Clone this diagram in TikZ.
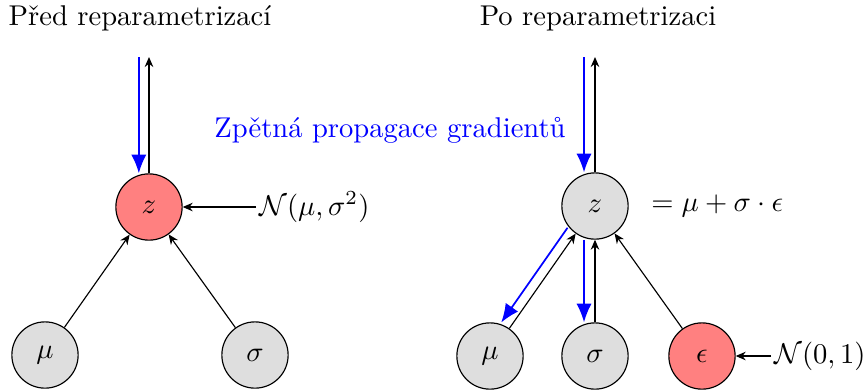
\documentclass[tikz,border=0pt]{standalone}
\usepackage{fontspec}
\usepackage{tikz}
\usetikzlibrary{arrows.meta}
\definecolor{gradblue}{RGB}{0,0,255}
\colorlet{sampledred}{red!50}
\colorlet{plaingray}{black!13}

\begin{document}
\begin{tikzpicture}[x=.0123cm,y=-.0123cm,
  var/.style={circle,draw,thin,minimum size=.815cm,inner sep=0pt,fill=plaingray},
  sampled/.style={var,fill=sampledred},
  tag/.style={inner sep=1pt},
  fwdarrow/.style={-{Stealth[length=3.5pt,width=3pt]},thin},
  gradarrow/.style={-{Latex[length=6.5pt,width=5.3pt]},gradblue,semithick}]
  \useasboundingbox (0,0) rectangle (864,391);
  \node (titleL) at (140,18) {Před reparametrizací};
  \node (titleR) at (598,18) {Po reparametrizaci};
  \node[text=gradblue] (gradtext) at (390,130) {Zpětná propagace gradientů};

  \node[sampled] (zL) at (149,207) {$z$};
  \node[var] (muL) at (45,355) {$\mu$};
  \node[var] (sigL) at (255,355) {$\sigma$};
  \node[tag,anchor=west] (distL) at (256,207) {$\mathcal{N}(\mu,\sigma^2)$};
  \coordinate (outL) at (149,57);

  \node[var] (zR) at (595,206) {$z$};
  \node[var] (muR) at (490,356) {$\mu$};
  \node[var] (sigR) at (595,356) {$\sigma$};
  \node[sampled] (epsR) at (702,356) {$\epsilon$};
  \node[tag,anchor=west] (eqR) at (648,206) {$=\mu+\sigma\cdot\epsilon$};
  \node[tag,anchor=west] (distR) at (771,356) {$\mathcal{N}(0,1)$};
  \coordinate (outR) at (595,57);

  \draw[fwdarrow] (muL) -- (zL);
  \draw[fwdarrow] (sigL) -- (zL);
  \draw[fwdarrow] (distL) -- (zL);
  \draw[fwdarrow] (zL) -- (outL);
  \draw[gradarrow,transform canvas={xshift=-.125cm}] (outL) -- (zL);

  \draw[fwdarrow] (muR) -- (zR);
  \draw[fwdarrow] (sigR) -- (zR);
  \draw[fwdarrow] (epsR) -- (zR);
  \draw[fwdarrow] (distR) -- (epsR);
  \draw[fwdarrow] (zR) -- (outR);
  \draw[gradarrow,transform canvas={xshift=-.135cm}] (outR) -- (zR);
  \draw[gradarrow,transform canvas={xshift=-.135cm}] (zR) -- (sigR);
  \draw[gradarrow,transform canvas={xshift=-.1cm,yshift=.072cm}] (zR) -- (muR);
\end{tikzpicture}
\end{document}
